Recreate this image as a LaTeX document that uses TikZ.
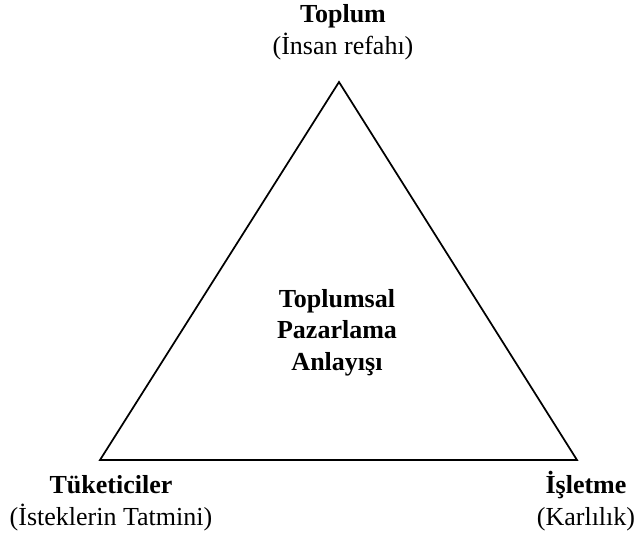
\documentclass[tikz,border=0pt]{standalone}
\usepackage{fontspec}
\setmainfont{Liberation Serif}
\usetikzlibrary{positioning}

\begin{document}
\begin{tikzpicture}[
    x=0.75pt, y=-0.75pt,
    corner/.style={inner sep=0pt, anchor=base, align=center, font=\fontsize{19.5}{23.5}\selectfont},
    center/.style={inner sep=0pt, anchor=base, align=center, font=\fontsize{19.5}{23.5}\selectfont\bfseries},
    edge/.style={draw, line width=1.3pt, line join=miter}
]
\useasboundingbox (0,0) rectangle (636,536);

\coordinate (apex) at (339,82);
\coordinate (left) at (100,460);
\coordinate (right) at (577,460);

\node[corner] (toplum) at (343,54) {\textbf{Toplum}\\(İnsan refahı)};
\node[corner] (tuketici) at (111,525) {\textbf{Tüketiciler}\\(İsteklerin Tatmini)};
\node[corner] (isletme) at (586,525) {\textbf{İşletme}\\(Karlılık)};
\node[center] (anlayis) at (337,370) {Toplumsal\\Pazarlama\\Anlayışı};

\draw[edge] (apex) -- (left) -- (right) -- cycle;

\end{tikzpicture}
\end{document}
